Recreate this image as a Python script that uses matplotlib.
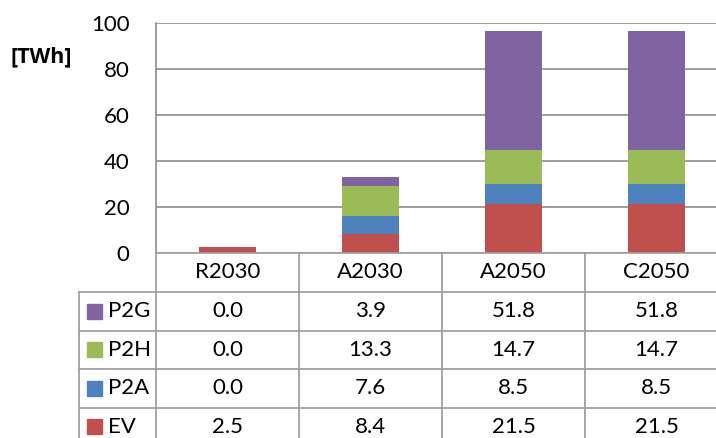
import numpy as np
import matplotlib.pyplot as plt
import matplotlib.transforms as mtransforms
from matplotlib.patches import Rectangle

## Données

scenarios = ["R2030", "A2030", "A2050", "C2050"]
ev = [2.5, 8.4, 21.5, 21.5]
p2a = [0.0, 7.6, 8.5, 8.5]
p2h = [0.0, 13.3, 14.7, 14.7]
p2g = [0.0, 3.9, 51.8, 51.8]

# ordre d'empilement (bas -> haut) et couleurs Excel
series = [("EV", ev, "#C0504D"), ("P2A", p2a, "#4F81BD"),
          ("P2H", p2h, "#9BBB59"), ("P2G", p2g, "#8064A2")]
table_order = ["P2G", "P2H", "P2A", "EV"]

W, H = 716, 438
FS = 16
plt.rcParams['font.family'] = ['Lato', 'DejaVu Sans']
fig = plt.figure(figsize=(W/100, H/100), dpi=100)


def px(x, y):
    """pixels (origine en haut à gauche) -> coordonnées figure"""
    return x / W, 1 - y / H


# axe : gauche 156 px, haut 23 px, zéro 253 px, 143 px par colonne
ax = fig.add_axes([156/W, 1 - 253/H, 572/W, 230/H])
x = np.arange(len(scenarios))
bottom = np.zeros(len(scenarios))
for name, vals, col in series:
    ax.bar(x, vals, 0.4, bottom=bottom, color=col, zorder=3)
    bottom += np.array(vals)

ax.set_xlim(-0.5, 3.5)
ax.set_ylim(0, 100)
ax.set_yticks(np.arange(0, 101, 20))
ax.set_xticks([])
ax.tick_params(axis='y', length=0, pad=19, labelsize=FS)
ax.grid(axis='y', color='#8C8C8C', lw=1.2, zorder=0)
for s in ["top", "right", "bottom"]:
    ax.spines[s].set_visible(False)
ax.spines["left"].set_color('#8C8C8C')
ax.spines["left"].set_linewidth(1.2)

# unité en gras (Lato n'a pas de graisse bold ici)
fig.text(*px(41, 57), "[TWh]", fontsize=15.5, fontweight='bold',
         family=['Open Sans', 'DejaVu Sans'], ha='center', va='center')

## Tableau sous le graphique

tr = mtransforms.blended_transform_factory(ax.transData, fig.transFigure)
lc = '#A0A0A0'
rows_y = [253, 292, 330.5, 369, 407.5, 446]
y0, y1 = px(0, 253)[1], px(0, 446)[1]

# lignes horizontales
for i, ry in enumerate(rows_y):
    yy = px(0, ry)[1]
    xs = 156/W if i == 0 else 79/W
    fig.add_artist(plt.Line2D([xs, 1], [yy, yy], color=lc, lw=1.3))
# lignes verticales
fig.add_artist(plt.Line2D([79/W, 79/W], [px(0, 292)[1], y1], color=lc, lw=1.3))
for b in np.arange(-0.5, 4, 1.0):
    ax.add_artist(plt.Line2D([b, b], [y0, y1], color=lc, lw=1.3,
                             transform=tr, clip_on=False))

# en-têtes
yc = px(0, (rows_y[0] + rows_y[1]) / 2)[1]
for i, sc in enumerate(scenarios):
    ax.text(i, yc, sc, transform=tr, ha='center', va='center', fontsize=FS)

data = {name: (vals, col) for name, vals, col in series}
for r, name in enumerate(table_order):
    vals, col = data[name]
    yc = px(0, (rows_y[r + 1] + rows_y[r + 2]) / 2)[1]
    sq = Rectangle(px(87, (rows_y[r + 1] + rows_y[r + 2]) / 2 + 7.5), 15/W, 15/H,
                   transform=fig.transFigure, color=col)
    fig.add_artist(sq)
    fig.text(108/W, yc, name, ha='left', va='center', fontsize=FS)
    for i, v in enumerate(vals):
        ax.text(i, yc, "%.1f" % v, transform=tr, ha='center', va='center',
                fontsize=FS)

fig.savefig("out.png", dpi=100)
